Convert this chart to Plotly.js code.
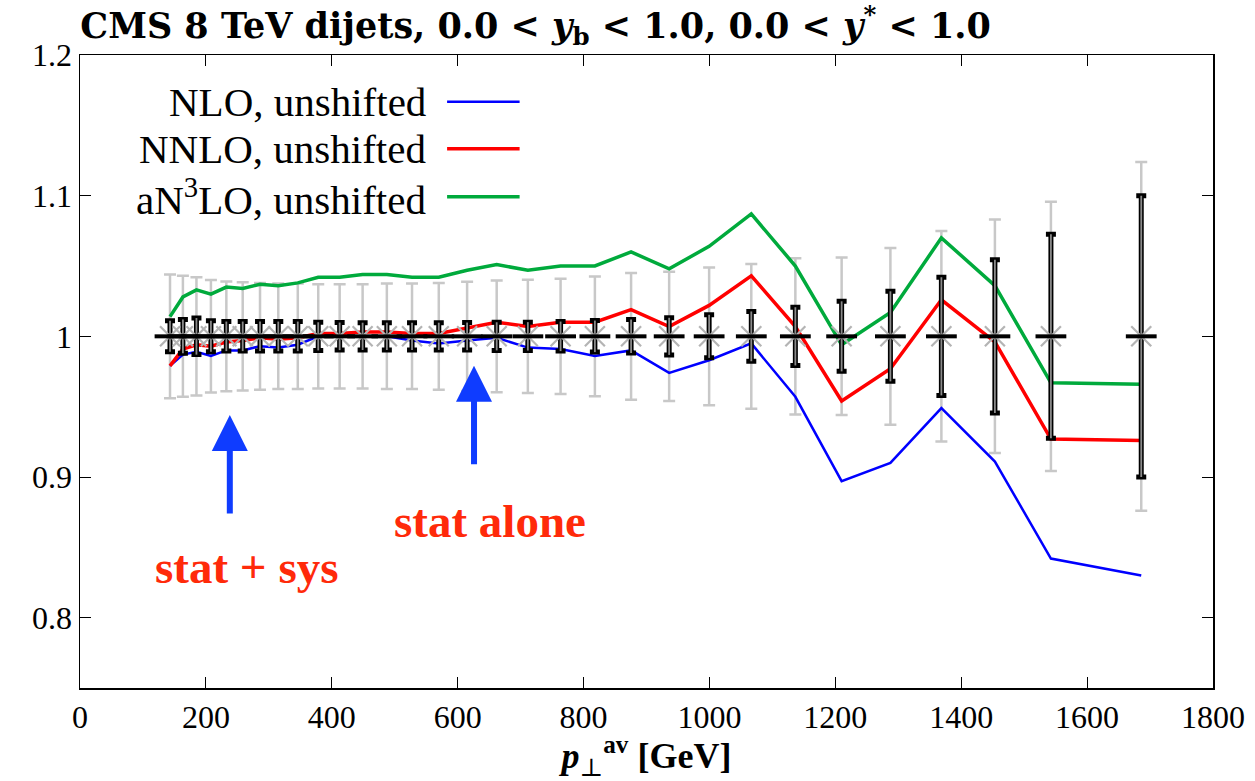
<!DOCTYPE html>
<html>
<head>
<meta charset="utf-8">
<script src="https://cdn.plot.ly/plotly-3.0.1.min.js"></script>
<style>html,body{margin:0;padding:0;background:#fff;}#chart{width:1255px;height:781px;}</style>
</head>
<body>
<div id="chart"></div>
<script>
// Bin centres of p_T^av [GeV]
const pt = [143,163.5,185,208,232.5,258.5,286,315,346,378.5,412.5,449,487.5,527.5,570,615,662,711.5,763.5,818,875.5,936,999.5,1066.5,1136.5,1210,1287.5,1368.5,1453.5,1542.5,1686];
// Data / data ratio
const dataRatio = [1,1,1,1,1,1,1,1,1,1,1,1,1,1,1,1,1,1,1,1,1,1,1,1,1,1,1,1,1,1,1];
// Statistical uncertainty
const statErr = [0.011,0.012,0.013,0.011,0.0105,0.0105,0.0105,0.0105,0.0105,0.0100,0.0098,0.0097,0.0097,0.0097,0.0097,0.0098,0.0100,0.0101,0.0105,0.0112,0.0119,0.0132,0.0153,0.0177,0.0207,0.0249,0.032,0.042,0.0545,0.0725,0.100];
// Stat + sys uncertainty
const totErr = [0.044,0.043,0.042,0.040,0.039,0.0385,0.038,0.0375,0.0375,0.037,0.037,0.037,0.0375,0.0375,0.038,0.0388,0.0397,0.0402,0.041,0.0426,0.045,0.046,0.049,0.0515,0.0555,0.056,0.0628,0.0748,0.083,0.0957,0.124];
// Theory / data
const nlo = [0.979,0.987,0.989,0.986,0.990,0.990,0.993,0.992,0.994,1.000,1.000,1.000,1.000,0.997,0.995,0.997,0.999,0.992,0.991,0.986,0.990,0.974,0.983,0.995,0.957,0.897,0.910,0.949,0.911,0.842,0.830];
const nnlo = [0.979,0.991,0.994,0.993,0.996,0.997,0.999,0.998,0.999,1.002,1.002,1.003,1.003,1.002,1.002,1.006,1.010,1.007,1.010,1.010,1.019,1.007,1.022,1.043,1.007,0.954,0.977,1.026,0.996,0.927,0.926];
const an3lo = [1.014,1.028,1.033,1.030,1.035,1.034,1.037,1.036,1.038,1.042,1.042,1.044,1.044,1.042,1.042,1.047,1.051,1.047,1.050,1.050,1.060,1.048,1.064,1.087,1.050,0.994,1.017,1.070,1.036,0.967,0.966];
const seriesNames = ['NLO, unshifted','NNLO, unshifted','aN<sup>3</sup>LO, unshifted'];
const seriesColors = ['#0000ff','#ff0000','#00aa3c'];
const xTicks = [0,200,400,600,800,1000,1200,1400,1600,1800];
const yTicks = [0.8,0.9,1.0,1.1,1.2];
const yTickText = ['0.8','0.9','1','1.1','1.2'];

const SERIF = 'Liberation Serif, DejaVu Serif, serif';

const traces = [
  {x: pt, y: dataRatio, type:'scatter', mode:'markers', marker:{size:1, color:'rgba(0,0,0,0)'},
   error_y:{type:'data', array: totErr, visible:true, color:'#c8c8c8', thickness:2.5, width:6},
   showlegend:false, hoverinfo:'skip'},
  {x: pt, y: nlo, type:'scatter', mode:'lines', line:{color:seriesColors[0], width:2.5}, name: seriesNames[0], showlegend:false},
  {x: pt, y: nnlo, type:'scatter', mode:'lines', line:{color:seriesColors[1], width:3.5}, name: seriesNames[1], showlegend:false},
  {x: pt, y: an3lo, type:'scatter', mode:'lines', line:{color:seriesColors[2], width:3.5}, name: seriesNames[2], showlegend:false},
  {x: pt, y: dataRatio, type:'scatter', mode:'markers', marker:{size:1, color:'rgba(0,0,0,0)'},
   error_y:{type:'data', array: statErr, visible:true, color:'#000000', thickness:5, width:5},
   showlegend:false, hoverinfo:'skip'},
  {x: pt, y: dataRatio, type:'scatter', mode:'markers', marker:{size:1, color:'rgba(0,0,0,0)'},
   error_y:{type:'data', array: statErr, visible:true, color:'#8a8a8a', thickness:1.8, width:0},
   showlegend:false, hoverinfo:'skip'},
  {x: pt, y: dataRatio, type:'scatter', mode:'markers',
   marker:{symbol:'x-thin', size:20, color:'#b4b4b4', line:{color:'#b4b4b4', width:2.2}},
   showlegend:false, hoverinfo:'skip'},
  {x: pt, y: dataRatio, type:'scatter', mode:'markers',
   marker:{symbol:'line-ew', size:22, color:'#000', line:{color:'#000', width:4}},
   showlegend:false, hoverinfo:'skip'}
];

// Legend drawn gnuplot-style: text right-aligned, sample line to the right
const legendY = [0.926, 0.852, 0.776];
const annotations = [];
const shapes = [];
seriesNames.forEach((n,i)=>{
  annotations.push({xref:'paper', yref:'paper', x:0.307, y:legendY[i], xanchor:'right', yanchor:'middle',
    text:n, showarrow:false, font:{family:SERIF, size:41, color:'#000'}});
  shapes.push({type:'line', xref:'paper', yref:'paper', x0:0.324, x1:0.388, y0:legendY[i], y1:legendY[i],
    line:{color:seriesColors[i], width: i===0?2.5:3.5}});
});
// Arrows and labels
annotations.push({xref:'x', yref:'y', axref:'x', ayref:'y', x:238, y:0.944, ax:238, ay:0.868,
  showarrow:true, arrowhead:2, arrowsize:1.2, arrowwidth:6, arrowcolor:'#0f3cff', text:' '});
annotations.push({xref:'x', yref:'y', axref:'x', ayref:'y', x:626, y:0.979, ax:626, ay:0.903,
  showarrow:true, arrowhead:2, arrowsize:1.2, arrowwidth:6, arrowcolor:'#0f3cff', text:' '});
annotations.push({xref:'x', yref:'y', x:264, y:0.836, text:'<b>stat + sys</b>', showarrow:false,
  font:{family:SERIF, size:47, color:'#ff2a0a'}});
annotations.push({xref:'x', yref:'y', x:651, y:0.869, text:'<b>stat alone</b>', showarrow:false,
  font:{family:SERIF, size:47, color:'#ff2a0a'}});

const layout = {
  width:1255, height:781,
  margin:{l:80, r:42, t:55, b:93},
  paper_bgcolor:'#fff', plot_bgcolor:'#fff',
  font:{family:SERIF, color:'#000'},
  title:{text:'<b>CMS 8 TeV dijets, 0.0 &lt; <i>y</i><sub>b</sub> &lt; 1.0, 0.0 &lt; <i>y</i><sup>*</sup> &lt; 1.0</b>',
    x:0.064, xanchor:'left', y:0.967, yanchor:'middle', font:{family:'DejaVu Serif, serif', size:35, color:'#000'}},
  xaxis:{range:[0,1800], tickvals:xTicks, ticks:'inside', ticklen:11, tickwidth:1, tickcolor:'#000',
    showline:true, linecolor:'#000', linewidth:1.5, mirror:'ticks', showgrid:false, zeroline:false,
    tickfont:{family:SERIF, size:32},
    title:{text:'<b><i>p</i></b><sub>⊥</sub><sup><b>av</b></sup> <b>[GeV]</b>', font:{family:SERIF, size:36}, standoff:4}},
  yaxis:{range:[0.75,1.2], tickvals:yTicks, ticktext:yTickText, ticks:'inside', ticklen:11, tickwidth:1, tickcolor:'#000',
    showline:true, linecolor:'#000', linewidth:1.5, mirror:'ticks', showgrid:false, zeroline:false,
    tickfont:{family:SERIF, size:32}},
  showlegend:false,
  annotations: annotations,
  shapes: shapes
};

Plotly.newPlot('chart', traces, layout, {staticPlot:true, displayModeBar:false});
</script>
</body>
</html>
